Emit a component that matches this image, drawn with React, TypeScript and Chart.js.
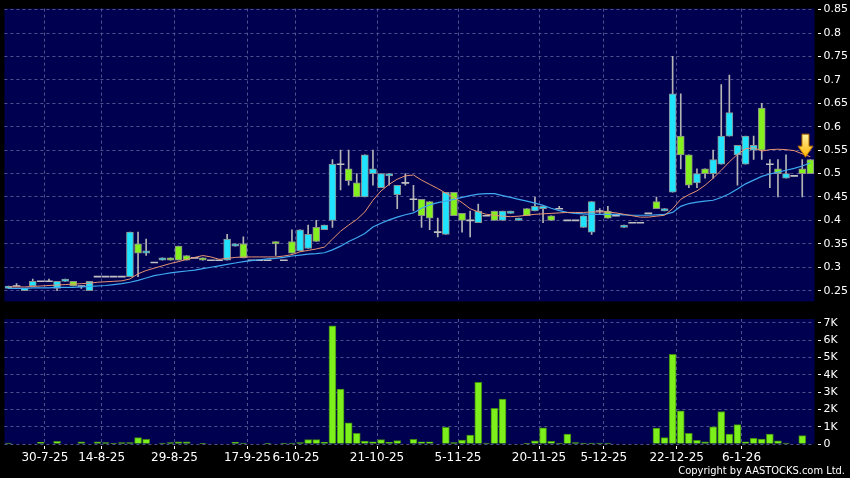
import React, { useEffect, useRef } from "react";
import { Chart, registerables } from "chart.js";
Chart.register(...registerables);

// ---- Data (one entry per trading session shown) ----
const opens = [
  0.255, 0.26, 0.25, 0.26, 0.27, 0.27, 0.255, 0.27, 0.27, 0.26,
  0.25, 0.28, 0.28, 0.28, 0.28, 0.28, 0.35, 0.33, 0.31, 0.315,
  0.32, 0.345, 0.325, 0.32, 0.32, 0.315, 0.315, 0.315, 0.345, 0.35,
  0.315, 0.315, 0.315, 0.355, 0.315, 0.355, 0.335, 0.34, 0.385, 0.38,
  0.4, 0.52, 0.51, 0.48, 0.45, 0.5, 0.47, 0.495, 0.455, 0.48,
  0.445, 0.445, 0.44, 0.375, 0.37, 0.46, 0.415, 0.4, 0.395, 0.41,
  0.42, 0.4, 0.415, 0.4, 0.425, 0.42, 0.425, 0.41, 0.425, 0.4,
  0.4, 0.385, 0.375, 0.42, 0.42, 0.41, 0.385, 0.395, 0.395, 0.415,
  0.44, 0.42, 0.46, 0.58, 0.54, 0.48, 0.51, 0.5, 0.52, 0.58,
  0.54, 0.52, 0.55, 0.64, 0.52, 0.51, 0.49, 0.495, 0.51, 0.53,
];
const closes = [
  0.26, 0.26, 0.255, 0.27, 0.27, 0.27, 0.27, 0.275, 0.26, 0.26,
  0.27, 0.28, 0.28, 0.28, 0.28, 0.375, 0.33, 0.335, 0.31, 0.32,
  0.315, 0.315, 0.315, 0.32, 0.315, 0.315, 0.315, 0.36, 0.35, 0.32,
  0.315, 0.315, 0.315, 0.35, 0.315, 0.33, 0.38, 0.37, 0.355, 0.39,
  0.52, 0.52, 0.485, 0.45, 0.54, 0.51, 0.5, 0.5, 0.475, 0.48,
  0.445, 0.41, 0.405, 0.375, 0.46, 0.41, 0.4, 0.4, 0.42, 0.41,
  0.4, 0.42, 0.42, 0.405, 0.41, 0.43, 0.43, 0.4, 0.425, 0.4,
  0.4, 0.41, 0.44, 0.42, 0.405, 0.41, 0.39, 0.395, 0.395, 0.415,
  0.425, 0.425, 0.67, 0.54, 0.475, 0.5, 0.5, 0.53, 0.58, 0.63,
  0.56, 0.58, 0.56, 0.55, 0.52, 0.5, 0.5, 0.495, 0.5, 0.5,
];
const highs = [
  0.26, 0.265, 0.255, 0.275, 0.27, 0.275, 0.27, 0.275, 0.27, 0.26,
  0.27, 0.28, 0.28, 0.28, 0.28, 0.375, 0.375, 0.36, 0.31, 0.32,
  0.32, 0.345, 0.325, 0.32, 0.32, 0.315, 0.315, 0.37, 0.35, 0.365,
  0.315, 0.315, 0.315, 0.355, 0.315, 0.38, 0.38, 0.39, 0.4, 0.39,
  0.53, 0.55, 0.55, 0.5, 0.54, 0.55, 0.5, 0.5, 0.475, 0.5,
  0.475, 0.445, 0.44, 0.405, 0.46, 0.46, 0.415, 0.42, 0.435, 0.41,
  0.42, 0.42, 0.42, 0.405, 0.425, 0.45, 0.43, 0.41, 0.43, 0.4,
  0.4, 0.41, 0.44, 0.425, 0.43, 0.41, 0.39, 0.395, 0.395, 0.415,
  0.45, 0.425, 0.75, 0.67, 0.54, 0.51, 0.51, 0.55, 0.69, 0.71,
  0.56, 0.58, 0.58, 0.65, 0.53, 0.53, 0.54, 0.495, 0.53, 0.53,
];
const lows = [
  0.255, 0.26, 0.25, 0.26, 0.27, 0.27, 0.25, 0.27, 0.26, 0.255,
  0.25, 0.28, 0.28, 0.28, 0.28, 0.28, 0.28, 0.325, 0.31, 0.315,
  0.315, 0.315, 0.315, 0.32, 0.315, 0.315, 0.315, 0.315, 0.345, 0.32,
  0.315, 0.315, 0.315, 0.325, 0.315, 0.33, 0.335, 0.34, 0.355, 0.38,
  0.385, 0.465, 0.475, 0.45, 0.45, 0.475, 0.47, 0.475, 0.425, 0.475,
  0.42, 0.385, 0.38, 0.365, 0.37, 0.41, 0.375, 0.365, 0.395, 0.41,
  0.4, 0.4, 0.415, 0.4, 0.41, 0.42, 0.395, 0.4, 0.425, 0.4,
  0.4, 0.385, 0.37, 0.415, 0.405, 0.41, 0.385, 0.395, 0.395, 0.415,
  0.425, 0.42, 0.46, 0.51, 0.47, 0.47, 0.49, 0.49, 0.52, 0.58,
  0.475, 0.52, 0.53, 0.53, 0.47, 0.45, 0.49, 0.495, 0.45, 0.5,
];
const volumes = [
  60, 0, 0, 0, 100, 0, 150, 0, 0, 120,
  0, 120, 80, 40, 80, 80, 370, 270, 0, 60,
  80, 120, 120, 0, 40, 0, 0, 0, 100, 60,
  0, 0, 20, 0, 60, 60, 80, 250, 250, 100,
  6830, 3170, 1230, 620, 170, 130, 250, 100, 200, 0,
  270, 130, 130, 0, 960, 80, 230, 520, 3560, 60,
  2060, 2600, 0, 0, 40, 190, 940, 150, 60, 580,
  80, 60, 60, 60, 60, 0, 0, 0, 0, 0,
  920, 370, 5190, 1920, 620, 210, 120, 1000, 1880, 580,
  1120, 130, 330, 290, 580, 190, 60, 0, 480, 0,
];
const maShort = [
  0.258, 0.258, 0.258, 0.259, 0.26, 0.261, 0.262, 0.263, 0.264, 0.265,
  0.266, 0.268, 0.269, 0.27, 0.271, 0.275, 0.286, 0.293, 0.298, 0.303,
  0.308, 0.312, 0.317, 0.321, 0.325, 0.322, 0.317, 0.319, 0.321, 0.322,
  0.322, 0.322, 0.322, 0.322, 0.324, 0.327, 0.333, 0.336, 0.339, 0.343,
  0.36, 0.377, 0.39, 0.402, 0.418, 0.443, 0.463, 0.477, 0.488, 0.495,
  0.497, 0.486, 0.477, 0.468, 0.458, 0.449, 0.438, 0.425, 0.418, 0.413,
  0.411, 0.409, 0.408, 0.409, 0.411, 0.413, 0.414, 0.415, 0.416, 0.417,
  0.417, 0.417, 0.418, 0.418, 0.418, 0.416, 0.413, 0.41, 0.407, 0.407,
  0.409, 0.411, 0.425, 0.445, 0.455, 0.463, 0.475, 0.49, 0.507, 0.525,
  0.541, 0.553, 0.555, 0.548, 0.551, 0.552, 0.551, 0.549, 0.542, 0.536,
];
const maLong = [
  0.255, 0.255, 0.255, 0.256, 0.256, 0.256, 0.257, 0.257, 0.257, 0.258,
  0.259, 0.26, 0.261, 0.263, 0.265, 0.268, 0.272, 0.277, 0.282, 0.285,
  0.288, 0.29, 0.292, 0.294, 0.297, 0.3, 0.303, 0.306, 0.309, 0.312,
  0.314, 0.316, 0.318, 0.319, 0.321, 0.324, 0.326, 0.328, 0.329, 0.331,
  0.337, 0.345, 0.355, 0.363, 0.372, 0.386, 0.394, 0.401, 0.407, 0.412,
  0.416, 0.426, 0.433, 0.438, 0.441, 0.445, 0.449, 0.453, 0.456, 0.457,
  0.457, 0.453, 0.449, 0.445, 0.441, 0.437, 0.432, 0.426, 0.421, 0.417,
  0.415, 0.414, 0.413, 0.413, 0.413, 0.413, 0.412, 0.411, 0.411, 0.411,
  0.412, 0.413, 0.417, 0.43, 0.436, 0.439, 0.441, 0.443, 0.449, 0.457,
  0.467, 0.478, 0.486, 0.494, 0.499, 0.503, 0.507, 0.511, 0.516, 0.523,
];
const tickLabels = [
  "30-7-25", "14-8-25", "29-8-25", "17-9-25", "6-10-25", "21-10-25",
  "5-11-25", "20-11-25", "5-12-25", "22-12-25", "6-1-26",
];
const tickSessions = [5, 12, 21, 30, 36, 46, 56, 66, 74, 83, 91];
const priceTicks = [0.25, 0.3, 0.35, 0.4, 0.45, 0.5, 0.55, 0.6, 0.65, 0.7, 0.75, 0.8, 0.85];
const volumeTicks = [0, 1000, 2000, 3000, 4000, 5000, 6000, 7000];
const priceRange = [0.2271, 0.8521];
const volumeRange = [0, 7230];
const sessionRange = [-0.5, 99.5];
const arrowMark = { session: 98.4, price: 0.535 };

// ---- Styles ----
const NAVY = "#000050";
const GRID = "#50508f";
const CYAN = "#1fe3ff";
const GREEN = "#84f01e";
const EDGE = "#8e8e8e";
const WICK = "#b4b4b4";
const FONT = "'DejaVu Sans', sans-serif";
const PLOT_LEFT = 4.4;
const AXIS_W = 35.6;

const bgPlugin = {
  id: "navyBg",
  beforeDraw(chart: any) {
    const { ctx, chartArea: a } = chart;
    ctx.save();
    ctx.fillStyle = NAVY;
    ctx.fillRect(a.left, a.top, a.right - a.left, a.bottom - a.top);
    ctx.restore();
  },
};

const arrowPlugin = {
  id: "arrowMark",
  afterDatasetsDraw(chart: any) {
    const { ctx, scales } = chart;
    const cx = scales.x.getPixelForValue(arrowMark.session);
    const tip = scales.y.getPixelForValue(arrowMark.price);
    const headH = 11, headW = 7.5, shaftW = 3.5, shaftH = 12;
    ctx.save();
    const g = ctx.createLinearGradient(0, tip - headH - shaftH, 0, tip);
    g.addColorStop(0, "#fff3a0");
    g.addColorStop(1, "#ffb400");
    ctx.beginPath();
    ctx.moveTo(cx - shaftW, tip - headH - shaftH);
    ctx.lineTo(cx + shaftW, tip - headH - shaftH);
    ctx.lineTo(cx + shaftW, tip - headH);
    ctx.lineTo(cx + headW, tip - headH);
    ctx.lineTo(cx, tip);
    ctx.lineTo(cx - headW, tip - headH);
    ctx.lineTo(cx - shaftW, tip - headH);
    ctx.closePath();
    ctx.fillStyle = g;
    ctx.fill();
    ctx.strokeStyle = "#b86e00";
    ctx.lineWidth = 1;
    ctx.stroke();
    ctx.restore();
  },
};

const xTicks = (s: any) => {
  s.ticks = tickSessions.map((i) => ({ value: i - 0.5 }));
};

export default function App() {
  const priceRef = useRef<HTMLCanvasElement>(null);
  const volRef = useRef<HTMLCanvasElement>(null);

  useEffect(() => {
    const idx = opens.map((_, i) => i);
    const isFlat = (i: number) => opens[i] === closes[i];
    const bodyColor = (i: number) =>
      isFlat(i) ? "#c0c0c0" : closes[i] > opens[i] ? CYAN : GREEN;

    const price = new Chart(priceRef.current!, {
      type: "bar",
      data: {
        datasets: [
          {
            type: "line",
            data: idx.map((i) => ({ x: i, y: maShort[i] })),
            borderColor: "#e89472",
            borderWidth: 1,
            pointRadius: 0,
            order: 0,
          } as any,
          {
            type: "line",
            data: idx.map((i) => ({ x: i, y: maLong[i] })),
            borderColor: "#3ea8f0",
            borderWidth: 1.2,
            pointRadius: 0,
            order: 1,
          } as any,
          {
            type: "bar",
            data: idx.map((i) => ({
              x: i,
              y: isFlat(i) ? [opens[i] - 0.001, opens[i] + 0.001] : [opens[i], closes[i]],
            })),
            backgroundColor: idx.map(bodyColor),
            borderColor: idx.map((i) => (isFlat(i) ? "#c0c0c0" : EDGE)),
            borderWidth: idx.map((i) => (isFlat(i) ? 0 : 1)),
            borderSkipped: false,
            barThickness: 7,
            grouped: false,
            order: 2,
          } as any,
          {
            type: "bar",
            data: idx.map((i) => ({ x: i, y: [lows[i], highs[i]] })),
            backgroundColor: WICK,
            barThickness: 1,
            grouped: false,
            order: 3,
          } as any,
        ],
      },
      options: {
        responsive: false,
        animation: false,
        devicePixelRatio: 1,
        layout: { padding: { left: PLOT_LEFT, top: 5, bottom: 5, right: 0 } },
        plugins: { legend: { display: false }, tooltip: { enabled: false } },
        scales: {
          x: {
            type: "linear",
            min: sessionRange[0],
            max: sessionRange[1],
            offset: false,
            afterBuildTicks: xTicks,
            afterFit: (s: any) => {
              s.height = 0;
            },
            ticks: { display: false },
            grid: { color: GRID, drawTicks: false, offset: false },
            border: { display: false, dash: [3, 3] },
          },
          y: {
            type: "linear",
            position: "right",
            min: priceRange[0],
            max: priceRange[1],
            afterBuildTicks: (s: any) => {
              s.ticks = priceTicks.map((v) => ({ value: v }));
            },
            afterFit: (s: any) => {
              s.width = AXIS_W;
            },
            ticks: {
              color: "#ffffff",
              font: { family: FONT, size: 11 },
              padding: 2,
              callback: (v: any) => String(Number(Number(v).toFixed(2))),
            },
            grid: {
              color: GRID,
              tickColor: "#ffffff",
              tickLength: 7,
              tickBorderDash: [0, 4, 3, 40],
            },
            border: { display: false, dash: [3, 3] },
          },
        },
      } as any,
      plugins: [bgPlugin, arrowPlugin],
    });

    const vol = new Chart(volRef.current!, {
      type: "bar",
      data: {
        datasets: [
          {
            data: idx.map((i) => ({ x: i, y: volumes[i] })),
            backgroundColor: "#7df01c",
            borderColor: "#3f8a10",
            borderWidth: 1,
            borderSkipped: "bottom",
            barThickness: 7,
          },
        ],
      },
      options: {
        responsive: false,
        animation: false,
        devicePixelRatio: 1,
        layout: { padding: { left: PLOT_LEFT, top: 9, bottom: 0, right: 0 } },
        plugins: { legend: { display: false }, tooltip: { enabled: false } },
        scales: {
          x: {
            type: "linear",
            min: sessionRange[0],
            max: sessionRange[1],
            offset: false,
            afterBuildTicks: xTicks,
            afterFit: (s: any) => {
              s.height = 34;
            },
            ticks: {
              color: "#ffffff",
              font: { family: FONT, size: 12 },
              padding: 1,
              autoSkip: false,
              maxRotation: 0,
              callback: (_v: any, i: number) => tickLabels[i],
            },
            grid: {
              color: GRID,
              tickColor: "#ffffff",
              tickLength: 6,
              tickBorderDash: [0, 2, 3, 40],
              offset: false,
            },
            border: { display: false, dash: [3, 3] },
          },
          y: {
            type: "linear",
            position: "right",
            min: volumeRange[0],
            max: volumeRange[1],
            afterBuildTicks: (s: any) => {
              s.ticks = volumeTicks.map((v) => ({ value: v }));
            },
            afterFit: (s: any) => {
              s.width = AXIS_W;
            },
            ticks: {
              color: "#ffffff",
              font: { family: FONT, size: 11 },
              padding: 2,
              callback: (v: any) => (Number(v) === 0 ? "0" : Number(v) / 1000 + "K"),
            },
            grid: {
              color: GRID,
              tickColor: "#ffffff",
              tickLength: 7,
              tickBorderDash: [0, 4, 3, 40],
            },
            border: { display: false, dash: [3, 3] },
          },
        },
      } as any,
      plugins: [bgPlugin],
    });

    return () => {
      price.destroy();
      vol.destroy();
    };
  }, []);

  return (
    <div
      style={{
        position: "fixed",
        left: 0,
        top: 0,
        width: 850,
        height: 478,
        background: "#000",
        overflow: "hidden",
      }}
    >
      <canvas
        ref={priceRef}
        width={850}
        height={310}
        style={{ position: "absolute", left: 0, top: 0, width: 850, height: 310 }}
      />
      <canvas
        ref={volRef}
        width={850}
        height={168}
        style={{ position: "absolute", left: 0, top: 310, width: 850, height: 168 }}
      />
      <div
        style={{
          position: "absolute",
          right: 5,
          top: 464,
          color: "#fff",
          fontFamily: "'DejaVu Sans Condensed', 'DejaVu Sans', sans-serif",
          fontSize: 11,
          lineHeight: "13px",
          whiteSpace: "nowrap",
        }}
      >
        Copyright by AASTOCKS.com Ltd.
      </div>
    </div>
  );
}
